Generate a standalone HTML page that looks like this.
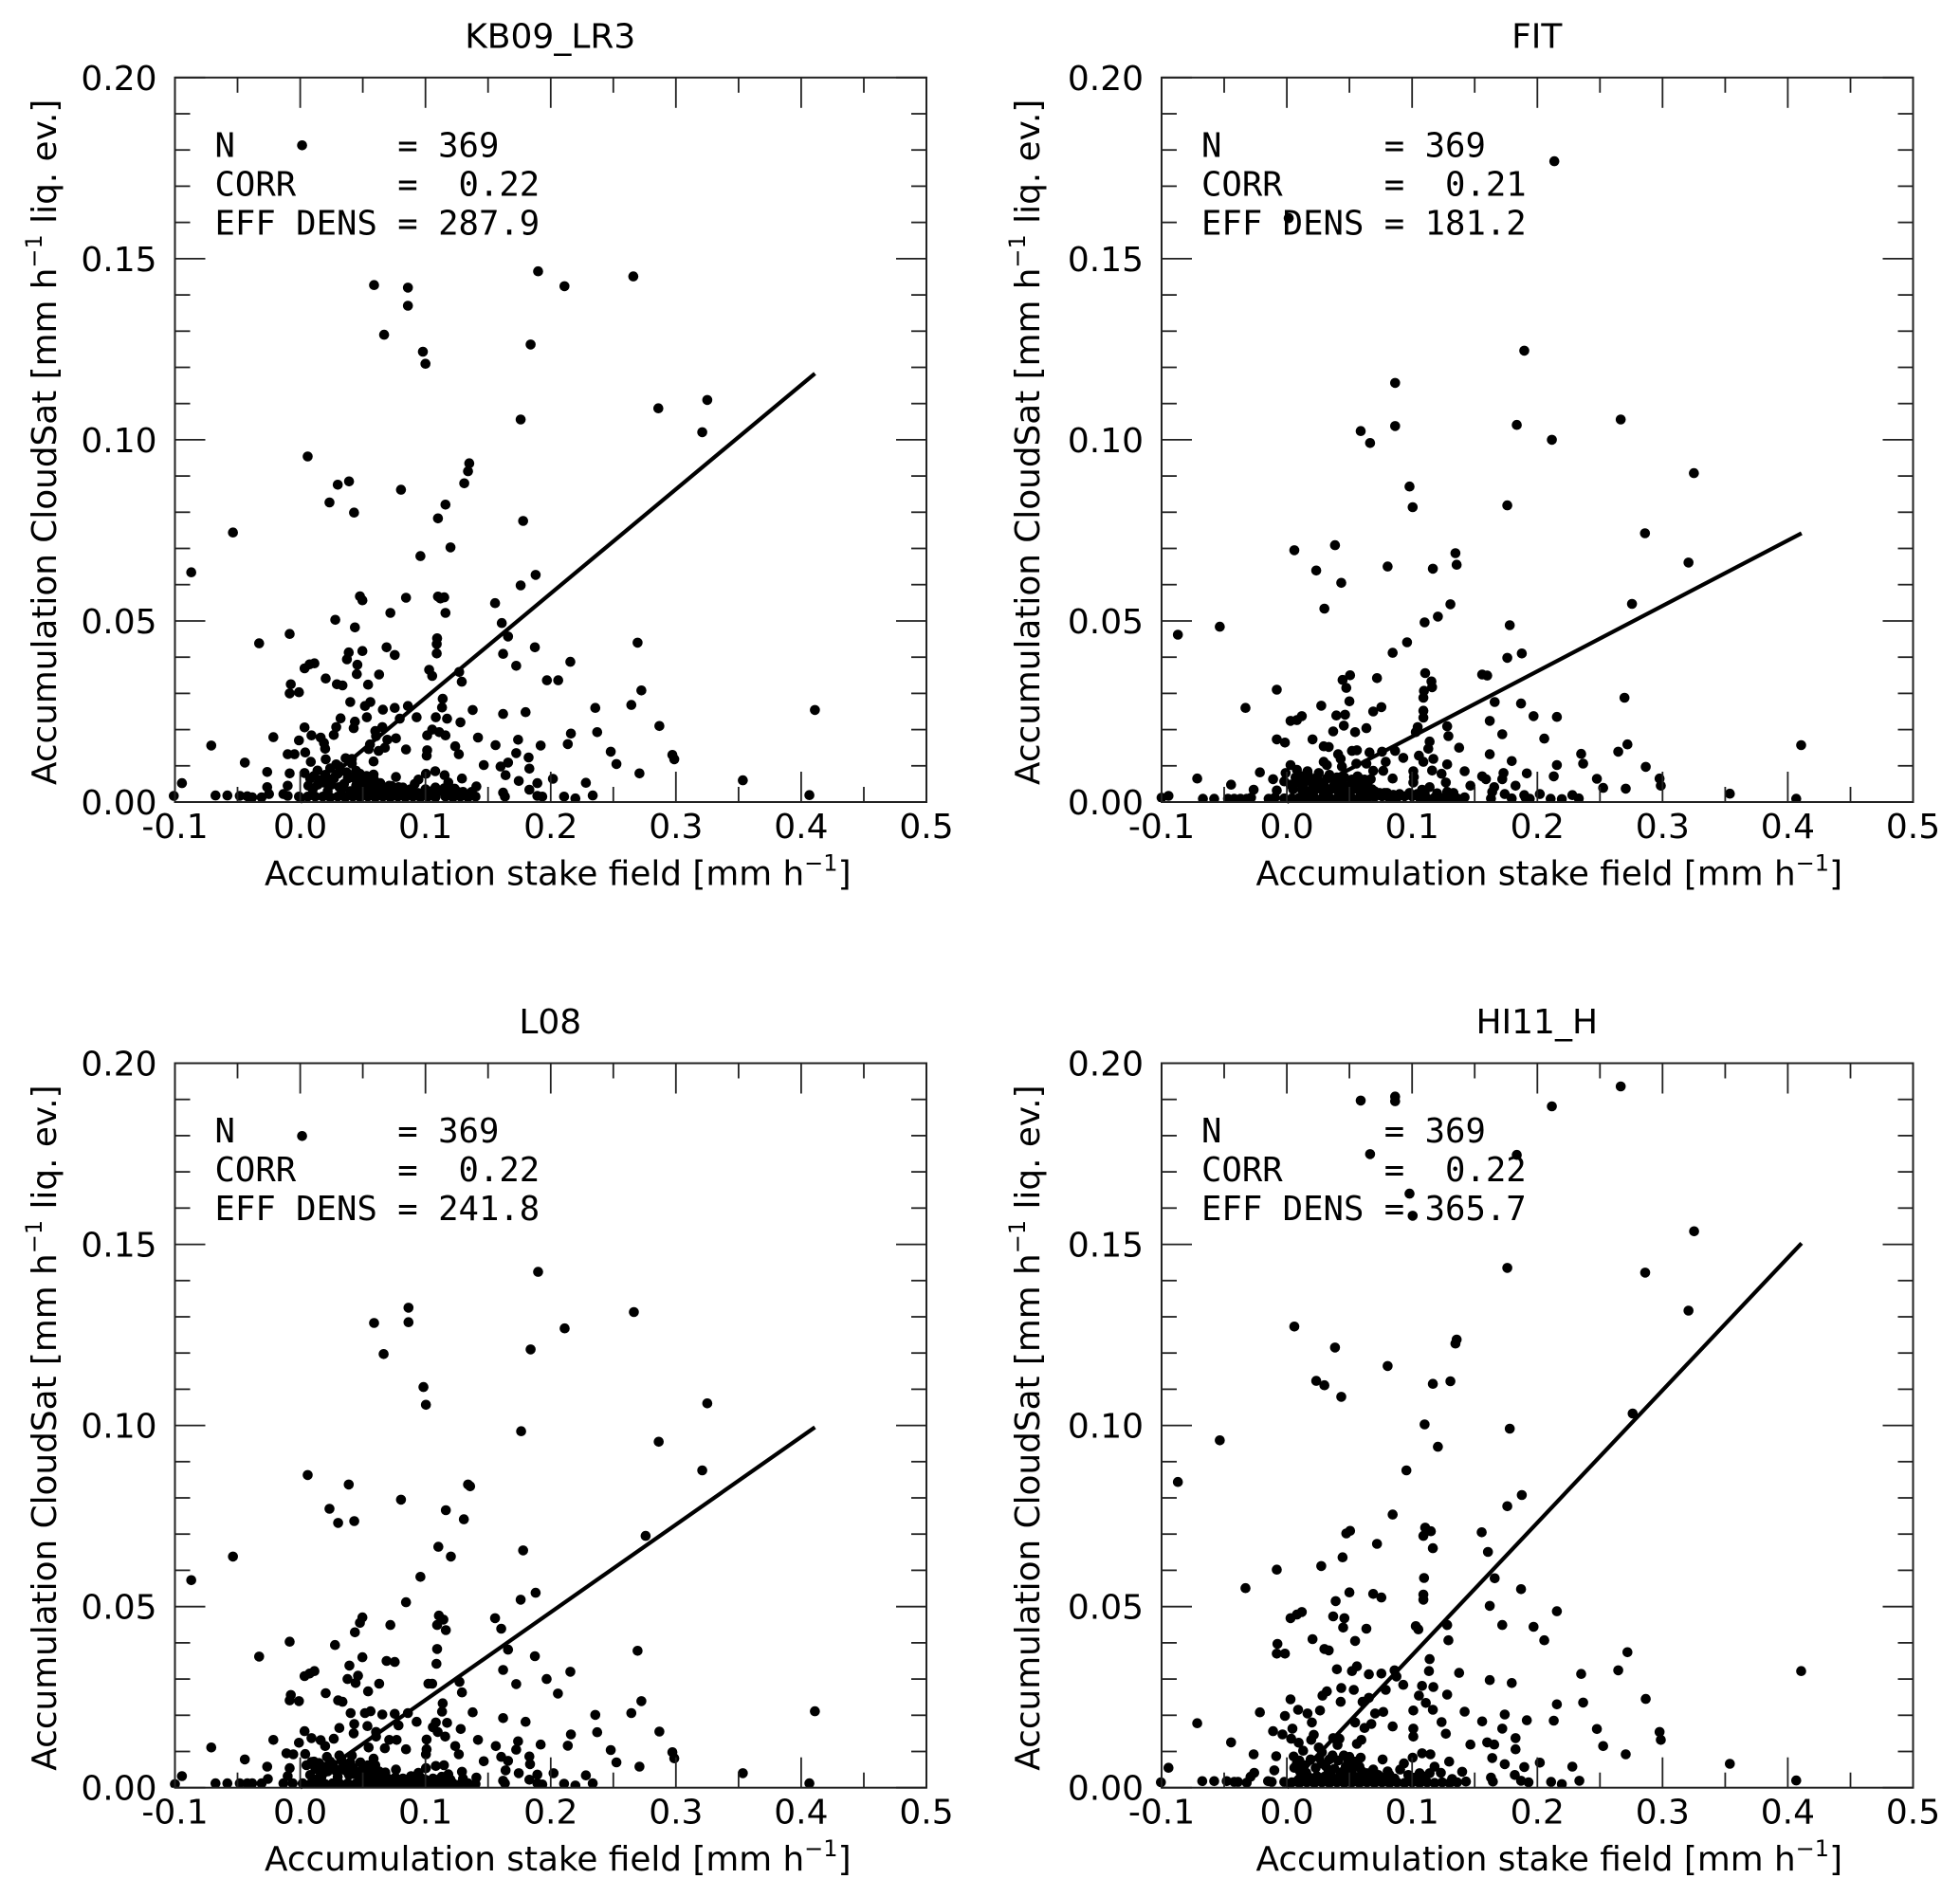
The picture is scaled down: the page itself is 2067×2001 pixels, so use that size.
<!DOCTYPE html>
<html lang="en">
<head>
<meta charset="utf-8">
<title>Accumulation CloudSat vs stake field scatter plots</title>
<style>
html,body{margin:0;padding:0;background:#fff;}
#figure{position:absolute;left:0;top:0;width:2067px;height:2001px;display:block;}
text{fill:#000;font-family:"DejaVu Sans","Liberation Sans",sans-serif;}
.mono{font-family:"DejaVu Sans Mono","Liberation Mono",monospace;white-space:pre;}
</style>
</head>
<body>
<svg id="figure" xmlns="http://www.w3.org/2000/svg" width="2067" height="2001" viewBox="0 0 2067 2001"></svg>
<script>
const xMajorTickLabels = ['-0.1','0.0','0.1','0.2','0.3','0.4','0.5'];
const xMinorTicks = [-0.05,0.05,0.15,0.25,0.35,0.45];
const yMajorTickLabels = ['0.00','0.05','0.10','0.15','0.20'];
const yMinorTicks = [0.01,0.02,0.03,0.04,0.06,0.07,0.08,0.09,0.11,0.12,0.13,0.14,0.16,0.17,0.18,0.19];
const fitX = [0,0.411];
const kb09FitY = [0,0.1183];
const fitFitY = [0,0.0742];
const l08FitY = [0,0.0995];
const hi11FitY = [0,0.1503];
const kb09Stats = ['N        = 369','CORR     =  0.22','EFF DENS = 287.9'];
const fitStats = ['N        = 369','CORR     =  0.21','EFF DENS = 181.2'];
const l08Stats = ['N        = 369','CORR     =  0.22','EFF DENS = 241.8'];
const hi11Stats = ['N        = 369','CORR     =  0.22','EFF DENS = 365.7'];

const kb09Points = [
[.0015,.1813],[.059,.1427],[.086,.142],[.086,.137],[.067,.129],[.098,.1243],[.1,.121],[.19,.1465],[.211,.1424],[.266,.1451],[.184,.1263],[.176,.1056],[.286,.1087],[.325,.111],[.321,.1021],[.006,.0954],[.135,.0935],[.134,.0913],
[.131,.088],[.039,.0885],[.03,.0876],[.0805,.0862],[.0234,.0827],[.116,.0821],[.043,.0799],[.11,.0783],[.178,.0776],[-.0537,.0744],[.12,.0703],[.096,.0679],[-.087,.0634],[.188,.0627],[.176,.0598],[.0477,.0568],[.0497,.0557],[.0845,.0564],[.11,.0567],[.112,.0562],[.115,.0565],[.1556,.0549],[.116,.0522],[.072,.0522],[.161,.0494],[.028,.0503],[.0437,.0482],[-.0084,.0464],[.166,.0457],[-.0328,.0438],[.2694,.044],[.1093,.0452],[.109,.0436],[.109,.041],[.069,.0427],[.0755,.0406],[.0388,.0413],[.0497,.0417],[.0373,.0394],[.162,.0409],[.1874,.0427],[.2157,.0387],[.1725,.0376],[.0114,.0383],[.0075,.038],[.0035,.0369],[.0457,.0379],[.0452,.0353],[.063,.0352],[.103,.0365],[.1054,.0348],[.127,.0359],[.129,.0332],[.0204,.0341],[.197,.0336],[.206,.0336],[-.0075,.0325],[.0293,.0325],[.0338,.0322],[.0542,.0324],[-.001,.0303],[-.0084,.03],[.2724,.0308],[.1138,.0285],[.04,.0276],[.056,.0276],[.0517,.0265],[.1133,.0261],[.086,.0265],[.0755,.026],[.066,.0255],[.2644,.0268],[.2356,.026],[.1377,.0254],[.162,.0243],[.18,.0248],[.093,.0234],[.1083,.0234],[.1173,.023],[.0532,.0234],[.0323,.0231],[.0795,.023],[.0437,.0222],[.128,.022],[.0288,.0207],[.0427,.0204],[.0035,.0206],[.2868,.021],[.0656,.0207],[.06,.0196],[.1054,.02],[.111,.0193],[.116,.0184],[.1014,.0184],[.009,.0184],[.0268,.0185],[.0164,.0178],[.0606,.0182],[-.0214,.0179],[.0765,.0176],[.0696,.0172],[-.001,.017],[.2162,.0189],[.2371,.0193],[.142,.0178],[.174,.0172],[.019,.0163],[.0557,.0159],[.1238,.0154],[.156,.0157],[.192,.0156],[.2137,.016],[-.071,.0156],[.0676,.015],[.0547,.0146],[.0845,.0145],[.0626,.0141],[.0199,.0147],[.248,.0139],[.1725,.0135],[.1014,.0143],[.1267,.0132],[.101,.0128],[.2972,.013],[.2987,.0118],[-.01,.0132],[-.0045,.0132],[.004,.0137],[.1824,.0123],[.0363,.0121],[.0413,.0119],[.0204,.0118],[.0085,.0111],[.0586,.0112],[-.0442,.0109],[.166,.0109],[.2525,.0105],[.1466,.0102],[.16,.0098],[.0288,.0104],[.0413,.0106],[.183,.0092],[-.0263,.0083],[-.0084,.0079],[.0035,.008],[.0139,.0087],[.0239,.0093],[.0313,.0098],[.0447,.0086],[.0477,.0078],[.0586,.0076],[.1004,.0078],[.1078,.0085],[.1153,.0074],[.0765,.0069],[.0944,.0062],[.2709,.0079],[.3534,.006],[.1292,.0065],[.164,.0074],[.2018,.0064],[.2281,.0053],[.1745,.0058],[.1894,.0052],[-.0944,.0052],[.1183,.0054],[.1407,.0043],[.183,.0034],[.1233,.0037],[.0915,.005],[.0785,.0041],[.0711,.0045],[.0586,.0054],[.0447,.0045],[.0313,.0041],[.0189,.0054],[.0065,.0045],[-.01,.0045],[-.0263,.0041],[.162,.0026],[.1635,.0015],[.4066,.0019],[.2107,.0015],[.2197,.001],[.2336,.0018],[.1894,.0017],[.1933,.0015],[-.1009,.0017],[-.0676,.0018],[-.0581,.0018],[-.0482,.0017],[-.0422,.0016],[-.0383,.0013],[-.0308,.0013],[-.0249,.0022],[-.0134,.0022],[-.01,.0017],[-.001,.0015],[.411,.0254],
[.006,.0015],[.012,.0015],[.018,.0015],[.024,.0013],[.03,.0015],[.036,.0013],[.042,.0015],[.048,.0013],[.054,.0015],[.06,.0013],[.066,.0015],[.072,.0013],[.078,.0015],[.084,.0013],[.09,.0015],[.096,.0013],[.102,.0015],[.108,.0013],[.116,.0015],[.122,.0013],[.128,.0015],[.134,.0013],[.14,.0015],
[.01,.0035],[.016,.006],[.022,.003],[.027,.0065],[.033,.0035],[.038,.0065],[.04,.003],[.046,.0025],[.05,.006],[.052,.003],[.056,.0035],[.062,.003],[.068,.0028],[.074,.003],[.08,.0025],[.086,.0028],[.094,.0025],[.105,.003],[.112,.003],[.12,.0032],[.13,.0028],
[.008,.0065],[.011,.0072],[.014,.0048],[.02,.0075],[.025,.0048],[.03,.0078],[.035,.005],[.037,.0082],[.042,.0068],[.045,.006],[.048,.0042],[.053,.0072],[.055,.005],[.059,.0062],[.061,.0045],[.064,.0052],[.067,.004],[.073,.0044],[.077,.0036],[.082,.004],[.088,.0035],[.1,.0035],[.108,.004],[.115,.0038],[.126,.0028],[.137,.0028]
];

const fitPoints = [
[.2136,.1769],[.0015,.1612],[.1896,.1246],[.0865,.1157],[.059,.1024],[.0665,.0991],[.0865,.1038],[.1836,.1041],[.2116,.1],[.2666,.1056],[.325,.0908],
[.098,.0871],[.1005,.0814],[.176,.0819],[.286,.0742],[.006,.0695],[.0385,.0709],[.1346,.0687],[.1356,.0655],[.0805,.065],[.1166,.0644],[.0235,.0639],[.0435,.0605],[.3207,.0661],[.2756,.0547],[.1306,.0546],[.03,.0534],[.1206,.0512],[.11,.0496],[.178,.0488],[-.0535,.0484],[-.087,.0462],[.096,.0441],[.0845,.0412],[.176,.0398],[.1876,.041],[.1105,.0356],[.156,.0352],[.16,.0349],[.0505,.035],[.0445,.0337],[.072,.0342],[.1155,.0333],[.0475,.0315],[.116,.0317],[.1095,.0307],[-.008,.031],[.109,.0288],[.2696,.0288],[.05,.0278],[.166,.0276],[.187,.0272],[.0275,.0266],[-.033,.026],[.0755,.0262],[.069,.025],[.109,.0252],[.109,.0233],[.0395,.0239],[.0465,.0241],[.012,.0237],[.008,.0226],[.003,.0224],[.197,.0237],[.2156,.0235],[.162,.0224],[.128,.0209],[.0455,.0211],[.0635,.0204],[.037,.0195],[.0545,.0193],[.1045,.0207],[.103,.0193],[.129,.0182],[.172,.0187],[-.008,.0173],[-.0015,.0164],[.0205,.0173],[.2056,.0175],[.114,.0167],[.272,.0159],[.0295,.0154],[.0335,.0152],[.1376,.015],[.113,.0147],[.2646,.0139],[.235,.0133],[.052,.0141],[.056,.0143],[.066,.0137],[.076,.0139],[.0865,.0141],[.041,.0132],[.162,.0132],[.093,.0122],[.1055,.0128],[.117,.0119],[.043,.0119],[.0295,.0111],[.079,.0111],[.1796,.0113],[.109,.0111],[.003,.0102],[.032,.0102],[.0555,.0106],[.0635,.0106],[.044,.0098],[.128,.0104],[.2156,.0102],[.2366,.0106],[.2866,.0097],[.069,.0086],[.077,.0086],[.101,.0085],[.116,.0087],[.142,.0085],[.008,.0089],[.0165,.0085],[.0255,.008],[-.0215,.0082],[-.001,.008],[.1916,.0079],[.1236,.0078],[.173,.008],[.0565,.0071],[.1015,.0069],[.2131,.0071],[-.0715,.0065],[-.011,.0063],[.156,.0071],[.0845,.0065],[.067,.0063],[.2476,.0064],[.2976,.0065],[.159,.0063],[.172,.0063],[-.002,.0057],[.101,.0054],[.127,.0054],[.2986,.0045],[-.0445,.0048],[.1826,.0045],[.1466,.0045],[.114,.0041],[.1656,.0041],[.2526,.0039],[.2706,.0037],[-.0265,.0034],[-.008,.0032],[.108,.0034],[.128,.0028],[.164,.0028],[.174,.0022],[.202,.0022],[.228,.0019],[.3537,.0023],[-.0945,.0017],[.1896,.0019],[.4107,.0157],[.4067,.0009],
[-.1,.0012],[-.067,.0009],[-.058,.0009],[-.047,.0009],[-.042,.0009],[-.037,.0009],[-.032,.0009],[-.0285,.0012],[-.0145,.0009],[-.0095,.0012],[.142,.0013],[.163,.001],[.2106,.0009],[.2196,.0008],[.2331,.001],[.1796,.001],[.1906,.0012],[.194,.0009],
[-.002,.001],[.004,.001],[.01,.0012],[.016,.001],[.022,.0012],[.028,.001],[.034,.0012],[.04,.001],[.046,.0012],[.052,.001],[.058,.0012],[.064,.001],[.07,.0014],[.076,.0016],[.082,.001],[.088,.0012],[.094,.0016],[.1,.0016],[.106,.0012],[.112,.001],[.118,.0012],[.124,.001],[.13,.0012],[.136,.001],
[.005,.0035],[.009,.0055],[.012,.0035],[.015,.0065],[.018,.003],[.02,.0055],[.023,.0035],[.026,.0055],[.029,.003],[.032,.0065],[.035,.0035],[.038,.005],[.041,.003],[.044,.0055],[.047,.003],[.05,.0045],[.053,.0035],[.055,.0055],[.058,.0032],[.06,.005],[.063,.003],[.066,.0028],[.07,.003],[.074,.0025],[.08,.0025],
[.003,.0048],[.007,.0068],[.011,.0072],[.013,.0048],[.017,.0075],[.021,.0042],[.024,.0068],[.027,.0042],[.03,.0045],[.034,.0075],[.037,.004],[.04,.0068],[.043,.0042],[.046,.0068],[.049,.0028],[.052,.0062],[.054,.0042],[.057,.0068],[.059,.0042],[.062,.0062],[.065,.0042],[.068,.0035],[.072,.0022],[.078,.0025],[.085,.002],[.09,.0022],[.098,.0025],[.104,.0022],[.11,.0024],[.12,.0024],[.133,.0025]
];

const l08Points = [
[.0015,.1799],[.19,.1424],[.0865,.1325],[.0865,.1285],[.059,.1283],[.2664,.1313],[.2112,.1268],[.0666,.1197],[.184,.121],[.0984,.1106],[.1004,.1057],[.325,.1061],[.1764,.0984],[.2863,.0955],
[.321,.0876],[.006,.0863],[.0388,.0837],[.134,.0837],[.1357,.0832],[.0805,.0795],[.0234,.077],[.1163,.0766],[.0303,.0731],[.0432,.0736],[.1307,.0741],[.1103,.0665],[.1203,.0638],[.178,.0655],[-.0537,.0638],[.2758,.0695],[.096,.0582],[-.087,.0573],[.188,.0538],[.176,.0519],[.0845,.0512],[.0497,.047],[.0477,.0455],[.1556,.0468],[.1108,.0475],[.1143,.0464],[.1093,.0449],[.072,.0449],[.1163,.0435],[.1605,.0439],[.0437,.0429],[-.0084,.0403],[.0278,.0394],[.1093,.0383],[.166,.0381],[.2694,.0378],[-.0328,.0362],[.0497,.036],[.1874,.0363],[.069,.035],[.0755,.0347],[.1088,.0342],[.0393,.0337],[.162,.0325],[.2157,.032],[.0114,.0322],[.0075,.0315],[.0035,.0308],[.0462,.0309],[.0378,.03],[.0442,.0289],[.1272,.0292],[.1024,.0287],[.1054,.0287],[.0631,.0287],[.1725,.0286],[.1968,.03],[.0542,.0266],[.1292,.0263],[.0204,.0261],[.2058,.026],[-.0075,.0256],[-.0084,.0241],[-.001,.0239],[.0303,.0241],[.0338,.0237],[.2724,.0239],[.1138,.0233],[.0403,.0206],[.0562,.0211],[.0517,.0206],[.1133,.021],[.0656,.0202],[.0755,.0204],[.086,.0206],[.1377,.0208],[.2644,.0206],[.2356,.0201],[.162,.0192],[.093,.0182],[.18,.0182],[.0432,.0176],[.1083,.018],[.1173,.0179],[.0785,.0172],[.0537,.017],[.0313,.0165],[.1059,.0167],[.1282,.0162],[.0035,.0156],[.2868,.0155],[.1098,.0154],[.0427,.015],[.0606,.0154],[.2162,.0147],[.2371,.0153],[.1158,.0141],[.009,.0137],[.0268,.0135],[-.0214,.0132],[.0164,.0131],[.1009,.0133],[.0711,.0132],[.077,.0132],[.142,.0132],[.0606,.0141],[.174,.0128],[-.001,.0124],[.192,.0119],[.2137,.0116],[.1562,.0115],[.0199,.0115],[.1238,.0115],[-.071,.0111],[.0547,.0111],[.0676,.0109],[.0845,.0106],[.1009,.0106],[.1725,.0105],[.248,.0104],[-.011,.0095],[-.0055,.0092],[.004,.0093],[.1004,.0092],[.1267,.0092],[.2972,.0098],[.2987,.0081],[.1605,.0085],[.183,.0086],[-.0442,.0078],[.166,.0074],[.1835,.0065],[.1466,.0073],[.2525,.007],[.0586,.008],[.0413,.0089],[.0313,.0089],[.0214,.0085],[.009,.0071],[-.0263,.0058],[.2709,.0058],[-.0084,.0054],[.1083,.006],[.1148,.0062],[.1292,.0044],[.3534,.004],[.164,.0048],[.2023,.004],[-.0944,.0032],[.2281,.0034],[.1745,.004],[.1894,.0036],[.1004,.0054],[.0944,.0041],[.0885,.0032],[.0765,.005],[.0586,.0045],[.0437,.0037],[.0313,.005],[.0189,.0058],[.0139,.005],[-.0258,.0024],[-.01,.0032],[.1183,.0037],[.1407,.0028],[.183,.0022],[.162,.0019],[.1635,.0012],[.2107,.0011],[.2197,.0006],[.2336,.0012],[.4066,.0012],[.411,.0211],
[-.0676,.0012],[-.0581,.0012],[-.0482,.0012],[-.0422,.0012],[-.0383,.0012],[-.0308,.0012],[-.0134,.0012],[-.006,.0012],[-.1,.001],[.1894,.0012],[.1933,.0009],
[.002,.0012],[.008,.001],[.014,.0012],[.02,.001],[.026,.0012],[.032,.001],[.038,.0012],[.044,.001],[.05,.0012],[.056,.001],[.062,.0012],[.068,.001],[.074,.0012],[.08,.001],[.086,.0012],[.092,.001],[.098,.0012],[.104,.001],[.11,.0012],[.116,.001],[.122,.0012],[.128,.001],[.134,.0012],[.14,.001],
[.008,.0035],[.012,.0055],[.017,.003],[.022,.0045],[.026,.0065],[.03,.003],[.035,.006],[.039,.0035],[.042,.0055],[.047,.003],[.05,.006],[.053,.003],[.057,.0032],[.062,.0028],[.066,.003],[.07,.0025],[.082,.0025],[.096,.0028],[.106,.0025],[.113,.003],
[.005,.0062],[.011,.0072],[.015,.0068],[.019,.0042],[.024,.0072],[.028,.0048],[.033,.0075],[.036,.0048],[.04,.007],[.044,.0045],[.048,.007],[.051,.0045],[.054,.0062],[.056,.0048],[.06,.0062],[.063,.0045],[.068,.0042],[.072,.0022],[.076,.0028],[.084,.0022],[.09,.0022],[.1,.0022],[.11,.0022],[.12,.0022],[.13,.0025]
];

const hi11Points = [
[.2666,.1936],[.0865,.1908],[.0865,.1895],[.059,.1897],[.2116,.1881],[.0665,.1749],[.1836,.1747],[.098,.164],[.1005,.1579],[.3252,.1536],[.176,.1435],[.2861,.1422],[.3207,.1317],[.006,.1273],[.1356,.1237],[.1346,.1226],[.0385,.1215],[.0805,.1164],[.0235,.1123],[.03,.1111],[.1166,.1115],[.1306,.1122],[.0435,.1079],[.2761,.1033],[.11,.1003],[.178,.0991],[-.0535,.0959],[.1206,.0941],
[-.087,.0844],[.0955,.0876],[.1876,.0808],[.176,.0777],[.0845,.0754],[.1105,.0718],[.115,.0708],[.109,.0695],[.1556,.0705],[.0505,.0709],[.0475,.0702],[.072,.0673],[.1166,.0661],[.1606,.0651],[.0445,.0636],[.0275,.0612],[-.008,.0602],[.1096,.0579],[.166,.0578],[-.033,.0551],[.187,.0548],[.05,.0539],[.069,.0535],[.0755,.0525],[.109,.0533],[.109,.0519],[.039,.0515],[.162,.0502],[.2156,.0487],[.012,.0485],[.008,.0478],[.003,.0468],[.037,.0473],[.046,.0468],[.045,.0442],[.128,.0449],[.103,.0446],[.105,.0437],[.0635,.0439],[.172,.0449],[.197,.0444],[.0545,.0405],[.129,.0407],[.0205,.041],[.2056,.0407],[-.0075,.0397],[.03,.0383],[.0335,.0379],[-.008,.037],[-.0015,.037],[.272,.0374],[.114,.0355],[.056,.0335],[.052,.0322],[.1135,.0322],[.04,.0327],[.2646,.0324],[.0655,.0313],[.0755,.0315],[.086,.0324],[.0875,.0307],[.1376,.0317],[.235,.0314],[.162,.0297],[.1796,.0289],[.093,.0284],[.108,.0281],[.117,.0278],[.079,.027],[.0535,.027],[.0435,.0275],[.032,.0266],[.0285,.0254],[.043,.0237],[.0655,.0248],[.0605,.0237],[.003,.0244],[.128,.0257],[.1055,.0254],[.111,.0234],[.2156,.023],[.2366,.0235],[.2866,.0245],[.009,.0215],[.0265,.0213],[.1166,.0215],[.101,.0213],[-.0215,.0208],[.0165,.0205],[.0705,.0205],[.077,.0209],[.142,.021],[.174,.0202],[-.0015,.0198],[.02,.018],[.0545,.018],[.1916,.0186],[.2131,.0185],[.156,.0183],[.1236,.0181],[-.0715,.0178],[.0675,.0176],[.062,.0165],[.0845,.0169],[.172,.0163],[.101,.0163],[.2476,.0162],[.0045,.0163],[-.011,.0156],[-.0035,.0147],[.0215,.0146],[.127,.0149],[.101,.0141],[.2976,.0154],[.2986,.0132],[.1826,.0137],[.0035,.0135],[.0095,.0124],[.0195,.0132],[.037,.0137],[.042,.0135],[.0595,.0132],[.056,.0121],[-.0445,.0125],[.16,.0125],[.1656,.0119],[.1466,.0119],[.2526,.0115],[.1826,.0106],[.0255,.0111],[.0405,.0118],[.013,.0102],[.028,.0098],[.108,.0095],[.1146,.0092],[-.0265,.0092],[.2706,.0092],[-.0085,.0087],[.0055,.0086],[.0365,.0089],[.0455,.0089],[.059,.0083],[.1005,.0083],[.164,.0082],[.0765,.0078],[.049,.0071],[.053,.0063],[.3537,.0066],[.202,.0069],[.174,.0065],[.0935,.0067],[.1296,.0072],[.008,.0067],[.028,.0067],[.1896,.0057],[.228,.0058],[-.0945,.0055],[.058,.0058],[.0905,.005],[.118,.0058],[-.01,.0048],[.0105,.0045],[.0155,.0041],[.033,.005],[.044,.0043],[.069,.005],[.0805,.0045],[.123,.0041],[.14,.0044],[.182,.0035],[-.026,.0041],[-.029,.003],[.163,.0028],[.1645,.0017],[.4067,.002],[.211,.0016],[.2196,.001],[.2336,.0019],[.187,.0019],[.193,.0015],[.132,.0024],[.143,.0017],[-.1005,.0015],[.4107,.0322],
[-.0675,.0018],[-.058,.0018],[-.048,.0018],[-.042,.0016],[-.039,.0016],[-.032,.0014],[-.015,.0018],[-.012,.0016],[-.002,.0016],
[.004,.0015],[.01,.0013],[.016,.0015],[.022,.0013],[.028,.0015],[.034,.0013],[.04,.0015],[.046,.0013],[.052,.0015],[.058,.0013],[.064,.0015],[.07,.0013],[.076,.0015],[.082,.0013],[.088,.0015],[.094,.0013],[.1,.0015],[.106,.0013],[.112,.0015],[.118,.0013],[.124,.0015],[.13,.0013],[.136,.0015],
[.012,.003],[.018,.0028],[.024,.0032],[.03,.003],[.036,.0028],[.042,.003],[.048,.0032],[.054,.003],[.06,.0034],[.066,.0028],[.072,.003],[.078,.0028],[.086,.0025],[.102,.0028],[.11,.003],
[.006,.0055],[.01,.0075],[.014,.0062],[.019,.0078],[.023,.0055],[.026,.0082],[.031,.006],[.034,.0078],[.038,.0052],[.041,.0075],[.047,.0058],[.05,.0085],[.052,.0048],[.055,.0072],[.06,.0045],[.064,.004],[.073,.0035],[.082,.0035],[.097,.0035],[.106,.004],[.114,.004]
];

const SVG_NS = 'http://www.w3.org/2000/svg';
const PLOT_W = 792.5;
const PLOT_H = 764.2;
const X_MIN = -0.1;
const X_MAX = 0.5;
const Y_MIN = 0;
const Y_MAX = 0.2;
const DOT_R = 5.3;
const svg = document.getElementById('figure');

const panels = [
  {key:'kb09', title:'KB09_LR3', left:184.5, top:81.8, points:kb09Points, fitY:kb09FitY, stats:kb09Stats, xTitleX:279, yTitleX:59},
  {key:'fit', title:'FIT', left:1225, top:81.8, points:fitPoints, fitY:fitFitY, stats:fitStats, xTitleX:1324.5, yTitleX:1096},
  {key:'l08', title:'L08', left:184.5, top:1121.5, points:l08Points, fitY:l08FitY, stats:l08Stats, xTitleX:279, yTitleX:59},
  {key:'hi11', title:'HI11_H', left:1225, top:1121.5, points:hi11Points, fitY:hi11FitY, stats:hi11Stats, xTitleX:1324.5, yTitleX:1096}
];

function xScale(p, v) { return p.left + (v - X_MIN) / (X_MAX - X_MIN) * PLOT_W; }
function yScale(p, v) { return p.top + PLOT_H - (v - Y_MIN) / (Y_MAX - Y_MIN) * PLOT_H; }
function make(tag, attrs, parent) {
  const el = document.createElementNS(SVG_NS, tag);
  for (const k in attrs) el.setAttribute(k, attrs[k]);
  parent.appendChild(el);
  return el;
}
function addSup(parent, before, after, baseSize) {
  const t1 = document.createTextNode(before);
  parent.appendChild(t1);
  const sup = make('tspan', {'font-size': 24, dy: -15}, parent);
  sup.textContent = '\u22121';
  const rest = make('tspan', {'font-size': baseSize, dy: 15}, parent);
  rest.textContent = after;
}

panels.forEach(function (p) {
  const g = make('g', {}, svg);
  
  

  const title = make('text', {x: p.left + PLOT_W / 2 - 0.5, y: p.top - 31.5, 'font-size': 36, 'text-anchor': 'middle'}, g);
  title.textContent = p.title;
  
  

  const clip = make('clipPath', {id: 'clip-' + p.key}, g);
  make('rect', {x: p.left - 12, y: p.top, width: PLOT_W + 12, height: PLOT_H}, clip);

  const pts = make('g', {'clip-path': 'url(#clip-' + p.key + ')', fill: '#000'}, g);
  
  
  p.points.forEach(function (d) {
    const c = make('circle', {cx: xScale(p, d[0]).toFixed(1), cy: yScale(p, d[1]).toFixed(1), r: DOT_R}, pts);
    
    
  });

  const line = make('line', {
    x1: xScale(p, fitX[0]).toFixed(1), y1: yScale(p, p.fitY[0]).toFixed(1),
    x2: xScale(p, fitX[1]).toFixed(1), y2: yScale(p, p.fitY[1]).toFixed(1),
    stroke: '#000', 'stroke-width': 4.2
  }, g);
  
  

  const frame = make('rect', {x: p.left, y: p.top, width: PLOT_W, height: PLOT_H, fill: 'none', stroke: '#222', 'stroke-width': 2}, g);
  
  

  const ticks = make('g', {stroke: '#222', 'stroke-width': 1.8}, g);
  
  
  function xTick(v, len) {
    const x = xScale(p, v).toFixed(1);
    const bottom = make('line', {x1: x, x2: x, y1: p.top + PLOT_H, y2: p.top + PLOT_H - len}, ticks);
    
    
    const top = make('line', {x1: x, x2: x, y1: p.top, y2: p.top + len}, ticks);
    
    
  }
  function yTick(v, len) {
    const y = yScale(p, v).toFixed(1);
    const l = make('line', {x1: p.left, x2: p.left + len, y1: y, y2: y}, ticks);
    
    
    const r = make('line', {x1: p.left + PLOT_W, x2: p.left + PLOT_W - len, y1: y, y2: y}, ticks);
    
    
  }
  xMinorTicks.forEach(function (v) { xTick(v, 16); });
  yMinorTicks.forEach(function (v) { yTick(v, 16); });

  xMajorTickLabels.forEach(function (s) {
    const v = parseFloat(s);
    xTick(v, 32);
    const t = make('text', {x: xScale(p, v), y: p.top + PLOT_H + 38, 'font-size': 36, 'text-anchor': 'middle'}, g);
    t.textContent = s;
    
    
  });
  yMajorTickLabels.forEach(function (s) {
    const v = parseFloat(s);
    yTick(v, 32);
    const t = make('text', {x: p.left - 19, y: yScale(p, v) + 13, 'font-size': 36, 'text-anchor': 'end'}, g);
    t.textContent = s;
    
    
  });

  const xTitle = make('text', {x: p.xTitleX, y: p.top + PLOT_H + 87.5, 'font-size': 35.8}, g);
  addSup(xTitle, 'Accumulation stake field [mm h', ']', 35.8);
  
  

  const yTitle = make('text', {x: 0, y: 0, 'font-size': 35.8, transform: 'translate(' + p.yTitleX + ' ' + (p.top + PLOT_H - 18) + ') rotate(-90)'}, g);
  addSup(yTitle, 'Accumulation CloudSat [mm h', ' liq. ev.]', 35.8);
  
  

  const statOffsets = [83.5, 124.5, 165.5];
  p.stats.forEach(function (s, i) {
    const t = make('text', {x: p.left + 42, y: p.top + statOffsets[i], 'font-size': 35.6, 'class': 'mono', 'xml:space': 'preserve'}, g);
    t.textContent = s;
    
    
  });
});
</script>
</body>
</html>
